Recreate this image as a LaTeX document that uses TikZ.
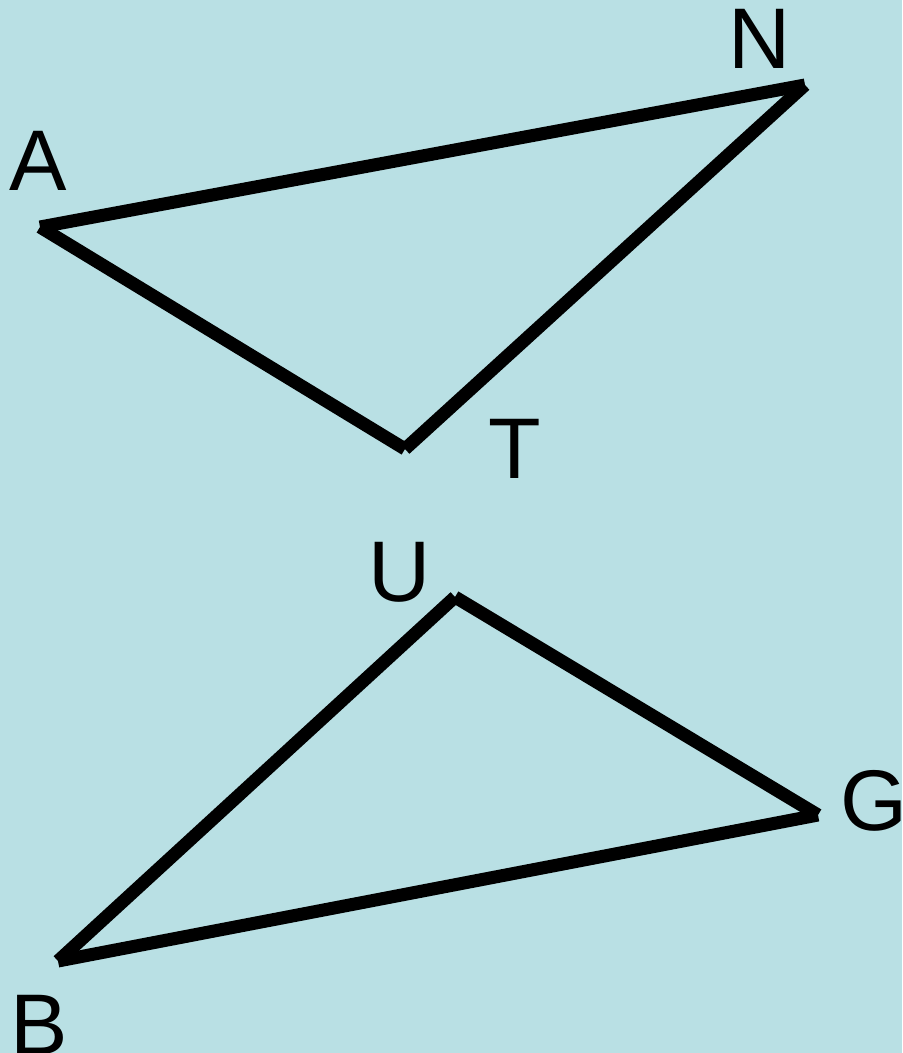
\documentclass[tikz,border=0pt]{standalone}
\usepackage{fontspec}
\setmainfont{Liberation Sans}
\definecolor{fondo}{RGB}{185,224,228}

\begin{document}
\begin{tikzpicture}[x=0.02cm,y=-0.02cm,
    lado/.style={line width=13*0.02cm, line cap=butt},
    letra/.style={inner sep=0pt, font=\fontsize{49}{55}\selectfont}]
            % Fondo
            \fill[fondo] (0,0) rectangle (902,1053);
            \useasboundingbox (0,0) rectangle (902,1053);

            % Triangulo de arriba
            \coordinate (A) at (40,227);
            \coordinate (N) at (805,85);
            \coordinate (T) at (405,449);
            \draw[lado] (A) -- (N);
            \draw[lado] (N) -- (T);
            \draw[lado] (T) -- (A);

            % Triangulo de abajo
            \coordinate (U) at (455,597);
            \coordinate (G) at (818,815);
            \coordinate (B) at (58,961);
            \draw[lado] (U) -- (G);
            \draw[lado] (G) -- (B);
            \draw[lado] (B) -- (U);

            % Letras
            \node[letra] (lA) at (38,161) {A};
            \node[letra] (lN) at (760,39) {N};
            \node[letra] (lT) at (515,449) {T};
            \node[letra] (lU) at (400,572) {U};
            \node[letra] (lG) at (874,801) {G};
            \node[letra] (lB) at (39,1025) {B};
        \end{tikzpicture}
\end{document}
